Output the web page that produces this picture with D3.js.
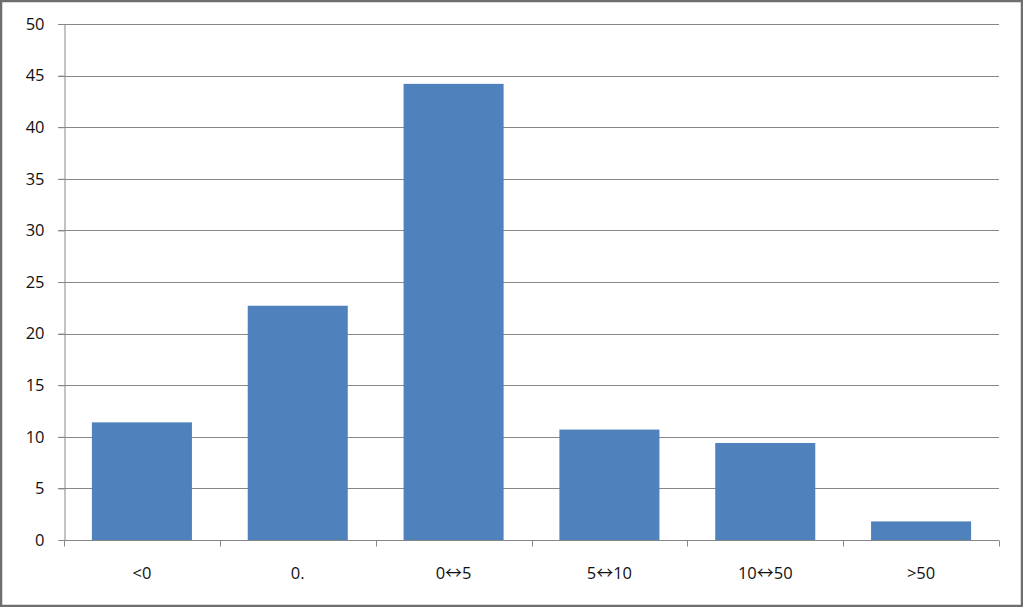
<!DOCTYPE html>
<html><head><meta charset="utf-8">
<script src="https://cdn.jsdelivr.net/npm/d3@7"></script>
<style>html,body{margin:0;padding:0;background:#fff;}svg{display:block;}</style>
</head><body>
<svg id="c" width="1023" height="607"></svg>
<script>
const categories = ["<0", "0.", "0\u21945", "5\u219410", "10\u219450", ">50"];
const values = [11.4, 22.7, 44.2, 10.7, 9.4, 1.8];
const yTicks = [0, 5, 10, 15, 20, 25, 30, 35, 40, 45, 50];

const svg = d3.select("#c");
const W = 1023, H = 607;
const m = {left: 64, right: 1023 - 999, top: 24, bottom: 607 - 540};

svg.append("rect").attr("x", 1).attr("y", 1).attr("width", W - 2).attr("height", H - 2)
  .attr("fill", "#fff").attr("stroke", "#6e6e6e").attr("stroke-width", 2.5);

const x = d3.scaleBand().domain(categories).range([m.left, W - m.right])
  .paddingInner(0.358).paddingOuter(0.179);
const y = d3.scaleLinear().domain([0, 50]).range([H - m.bottom, m.top]);

const font = "'Open Sans', 'Liberation Sans', sans-serif";

// gridlines
svg.append("g").selectAll("line").data(yTicks.filter(d => d > 0)).join("line")
  .attr("x1", m.left - 6).attr("x2", W - m.right)
  .attr("y1", d => Math.round(y(d)) + 0.5).attr("y2", d => Math.round(y(d)) + 0.5)
  .attr("stroke", "#878787").attr("stroke-width", 1);

// bars
svg.append("g").selectAll("rect").data(values).join("rect")
  .attr("x", (d, i) => x(categories[i]))
  .attr("width", x.bandwidth())
  .attr("y", d => y(d))
  .attr("height", d => y(0) - y(d))
  .attr("fill", "#4f81bd");

// y axis
const yAxis = d3.axisLeft(y).tickValues(yTicks).tickSize(6).tickPadding(14);
const gy = svg.append("g").attr("transform", `translate(${m.left + 0.5},0)`).call(yAxis);
gy.select(".domain").attr("stroke", "#878787");
gy.selectAll(".tick line").attr("stroke", "#878787");
gy.selectAll(".tick text").attr("font-family", font).attr("font-size", 16.5).attr("fill", "#111");

// x axis
const step = x.step();
const gx = svg.append("g").attr("transform", `translate(0,${Math.round(y(0)) + 0.5})`);
gx.append("line").attr("x1", m.left).attr("x2", W - m.right).attr("stroke", "#878787");
const bounds = d3.range(categories.length + 1).map(i => m.left + i * step);
gx.selectAll("line.t").data(bounds).join("line").attr("class", "t")
  .attr("x1", d => Math.round(d) + 0.5).attr("x2", d => Math.round(d) + 0.5)
  .attr("y1", 0).attr("y2", 6).attr("stroke", "#878787");
const labels = gx.selectAll("text").data(categories).join("text")
  .attr("x", d => x(d) + x.bandwidth() / 2).attr("y", 38)
  .attr("text-anchor", "middle").attr("font-family", font).attr("font-size", 16.5).attr("fill", "#111");
labels.each(function(d) {
  const t = d3.select(this);
  const parts = d.split("\u2194");
  parts.forEach((p, i) => {
    if (i > 0) t.append("tspan").attr("font-family", "'Noto Sans CJK JP', 'DejaVu Sans', sans-serif").attr("font-size", 17).text("\u2194");
    t.append("tspan").text(p);
  });
});
</script>
</body></html>
